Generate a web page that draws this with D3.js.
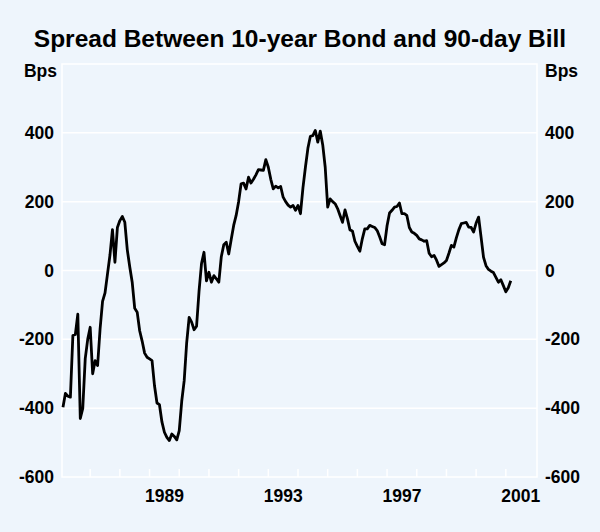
<!DOCTYPE html>
<html>
<head>
<meta charset="utf-8">
<script src="https://cdn.jsdelivr.net/npm/d3@7"></script>
<style>
  html, body { margin: 0; padding: 0; background: #EEF5FC; }
  svg { display: block; }
  text { font-family: "Liberation Sans", Arial, Helvetica, sans-serif; font-weight: bold; fill: #000; }
</style>
</head>
<body>
<svg id="chart" width="600" height="532"></svg>
<script>
// ---- data ----
const title = "Spread Between 10-year Bond and 90-day Bill";
const unitLabel = "Bps";
const startYear = 1986;
const startMonth = 2; // February 1986, monthly observations
const spreadBps = [
  -397, -357, -365, -368, -189, -186, -127, -430, -401, -256, -200,
  -165, -300, -262, -276, -170, -90, -65, -10, 45, 119, 24, 125,
  145, 157, 140, 60, 10, -35, -110, -121, -175, -205, -240, -252,
  -257, -262, -335, -385, -390, -440, -470, -485, -494, -475, -482, -492,
  -465, -380, -320, -210, -136, -150, -172, -162, -60, 20, 53, -30,
  -5, -34, -15, -24, -34, 40, 75, 82, 48, 90, 131, 160,
  200, 252, 254, 237, 271, 254, 265, 278, 293, 292, 291, 322,
  300, 265, 237, 245, 240, 244, 213, 200, 190, 184, 189, 175,
  189, 165, 240, 300, 355, 390, 392, 407, 373, 405, 365, 300,
  184, 208, 200, 194, 180, 160, 140, 176, 150, 118, 115, 85,
  70, 56, 92, 121, 121, 131, 128, 125, 116, 98, 78, 75,
  130, 167, 175, 184, 186, 196, 165, 165, 160, 125, 112, 108,
  102, 92, 89, 85, 87, 50, 40, 44, 30, 12, 17, 22,
  29, 50, 73, 68, 95, 118, 136, 138, 140, 126, 125, 112,
  138, 155, 97, 38, 14, 3, -2, -6, -20, -34, -27, -44,
  -62, -50, -30
];
const yTicks = [-600, -400, -200, 0, 200, 400];
const yGrid = [-400, -200, 0, 200, 400];
const xLabelYears = [1989, 1993, 1997, 2001];
const xTickYears = d3.range(1987, 2002);

// ---- layout ----
const W = 600, H = 532;
const plot = { left: 62, right: 537, top: 64, bottom: 477 };
const fs = 17.5;

const svg = d3.select("#chart");
svg.append("rect").attr("width", W).attr("height", H).attr("fill", "#EEF5FC");

const x = d3.scaleLinear().domain([1986, 2002]).range([60.5, 535.5]);
const y = d3.scaleLinear().domain([-600, 600]).range([plot.bottom, plot.top]);

const data = spreadBps.map((v, i) => ({ t: startYear + (startMonth - 1 + i) / 12, v }));

// grid lines
svg.append("g").selectAll("line").data(yGrid).join("line")
  .attr("x1", plot.left).attr("x2", plot.right)
  .attr("y1", d => y(d)).attr("y2", d => y(d))
  .attr("stroke", "#fff").attr("stroke-width", 1.5);

// frame
svg.append("rect")
  .attr("x", plot.left).attr("y", plot.top)
  .attr("width", plot.right - plot.left).attr("height", plot.bottom - plot.top)
  .attr("fill", "none").attr("stroke", "#fff").attr("stroke-width", 1.5);

// x ticks (inside, from bottom)
svg.append("g").selectAll("line").data(xTickYears).join("line")
  .attr("x1", d => x(d)).attr("x2", d => x(d))
  .attr("y1", plot.bottom).attr("y2", plot.bottom - 8)
  .attr("stroke", "#fff").attr("stroke-width", 1.5);

// x labels centred in year
svg.append("g").selectAll("text").data(xLabelYears).join("text")
  .attr("x", d => x(d + 0.5)).attr("y", 502)
  .attr("text-anchor", "middle").attr("font-size", fs)
  .text(d => d);

// y labels left and right
svg.append("g").selectAll("text").data(yTicks).join("text")
  .attr("x", 54).attr("y", d => y(d) + 6)
  .attr("text-anchor", "end").attr("font-size", fs)
  .text(d => d);
svg.append("g").selectAll("text").data(yTicks).join("text")
  .attr("x", 545).attr("y", d => y(d) + 6)
  .attr("text-anchor", "start").attr("font-size", fs)
  .text(d => d);

svg.append("text").attr("x", 57).attr("y", 77).attr("text-anchor", "end")
  .attr("font-size", fs).text(unitLabel);
svg.append("text").attr("x", 545).attr("y", 77).attr("text-anchor", "start")
  .attr("font-size", fs).text(unitLabel);

// title
svg.append("text").attr("x", W / 2).attr("y", 47).attr("text-anchor", "middle")
  .attr("font-size", 24.5).text(title);

// line
const line = d3.line().x(d => x(d.t)).y(d => y(d.v));
svg.append("path").datum(data)
  .attr("d", line)
  .attr("fill", "none").attr("stroke", "#000")
  .attr("stroke-width", 2.8).attr("stroke-linejoin", "round");
</script>
</body>
</html>
